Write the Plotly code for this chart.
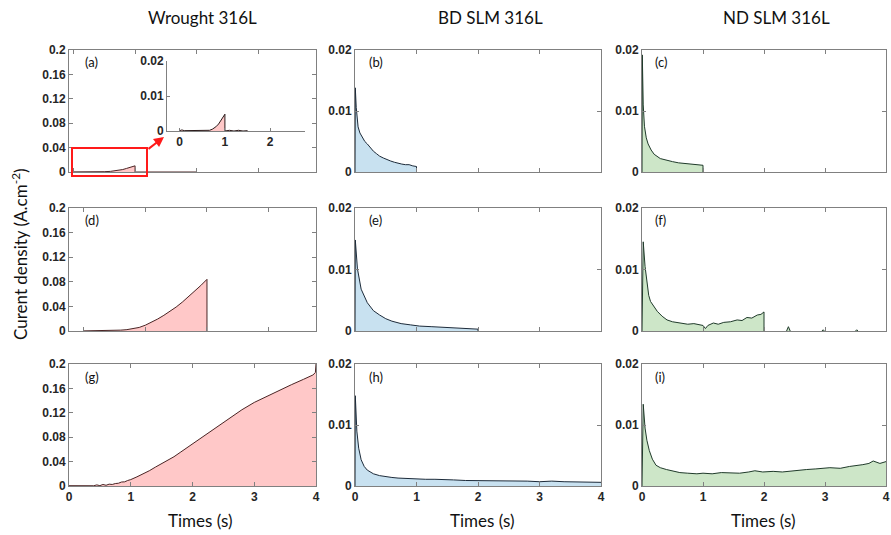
import plotly.graph_objects as go

W, H = 891, 535

# ---------------- data ----------------
col_titles = ["Wrought 316L", "BD SLM 316L", "ND SLM 316L"]
panel_tags = ["(a)", "(b)", "(c)", "(d)", "(e)", "(f)", "(g)", "(h)", "(i)"]
x_ticks = [0, 1, 2, 3, 4]
y_ticks_wrought = [0, 0.04, 0.08, 0.12, 0.16, 0.2]
y_ticks_slm = [0, 0.01, 0.02]

a_t = [0, 0.1, 0.2, 0.3, 0.4, 0.5, 0.6, 0.7, 0.8, 0.86, 0.93, 1.0, 1.0, 1.5, 2.0]
a_j = [0.0002, 0.0001, 0.0002, 0.0001, 0.0002, 0.0005, 0.001, 0.0022, 0.004, 0.0058, 0.0078, 0.0101, 0, 0, 0]

ins_t = [0, 0.05, 0.1, 0.2, 0.25, 0.35, 0.4, 0.5, 0.55, 0.6, 0.66, 0.72, 0.8, 0.86, 0.9, 0.95, 1.0, 1.0, 1.1, 1.2, 1.3, 1.4, 1.5]
ins_j = [0.0001, 0.0003, 0.0001, 0.0001, 0.0003, 0.0001, 0.0002, 0.0001, 0.0003, 0.0001, 0.0002, 0.0005, 0.0012, 0.002, 0.0027, 0.0036, 0.0048, 0, 0.0002, 0, 0.0002, 0, 0.0001]

b_t = [0, 0.005, 0.02, 0.05, 0.08, 0.12, 0.16, 0.2, 0.25, 0.3, 0.35, 0.4, 0.46, 0.52, 0.58, 0.64, 0.7, 0.76, 0.82, 0.88, 0.94, 1.0, 1.0]
b_j = [0, 0.0138, 0.0106, 0.0074, 0.0064, 0.0056, 0.005, 0.0046, 0.0039, 0.0034, 0.003, 0.0026, 0.0023, 0.002, 0.0018, 0.0016, 0.0014, 0.0013, 0.0012, 0.0012, 0.001, 0.0009, 0]

c_t = [0, 0.005, 0.02, 0.04, 0.07, 0.1, 0.15, 0.2, 0.3, 0.4, 0.5, 0.6, 0.7, 0.8, 0.9, 1.0, 1.0]
c_j = [0, 0.0192, 0.011, 0.0075, 0.0056, 0.0046, 0.0036, 0.0029, 0.0022, 0.0019, 0.0017, 0.0015, 0.0014, 0.0013, 0.0012, 0.0011, 0]

d_t = [0, 0.2, 0.4, 0.5, 0.6, 0.7, 0.8, 0.9, 1.0, 1.1, 1.2, 1.3, 1.4, 1.5, 1.6, 1.7, 1.8, 1.9, 2.0, 2.0]
d_j = [0.0002, 0.0003, 0.0006, 0.0009, 0.0014, 0.0022, 0.0036, 0.0058, 0.0095, 0.014, 0.0195, 0.0255, 0.032, 0.039, 0.047, 0.0555, 0.0645, 0.074, 0.084, 0]

e_t = [0, 0.005, 0.04, 0.1, 0.2, 0.3, 0.4, 0.5, 0.6, 0.75, 0.9, 1.05, 1.25, 1.4, 1.6, 1.8, 2.0, 2.0]
e_j = [0, 0.0148, 0.0101, 0.0068, 0.0046, 0.0033, 0.0026, 0.002, 0.0016, 0.0012, 0.001, 0.0008, 0.0007, 0.0006, 0.0005, 0.0004, 0.0003, 0]

f_t = [0, 0.02, 0.05, 0.08, 0.11, 0.14, 0.2, 0.25, 0.33, 0.41, 0.5, 0.63, 0.75, 0.85, 0.95, 1.0, 1.04, 1.08, 1.17, 1.25, 1.34, 1.45, 1.56, 1.64, 1.72, 1.8, 1.89, 1.95, 2.0, 2.0, None, 2.37, 2.4, 2.43, None, 2.95, 2.97, 2.99, None, 3.5, 3.52, 3.54]
f_j = [0, 0.0145, 0.0105, 0.0076, 0.0058, 0.0048, 0.0038, 0.0032, 0.0024, 0.0018, 0.0015, 0.0013, 0.0011, 0.0012, 0.001, 0.0009, 0.0004, 0.0009, 0.0013, 0.0011, 0.0014, 0.0015, 0.0018, 0.0017, 0.0022, 0.0021, 0.0026, 0.0027, 0.0031, 0, None, 0, 0.0007, 0, None, 0, 0.0002, 0, None, 0, 0.0002, 0]

g_t = [0, 0.1, 0.2, 0.3, 0.4, 0.45, 0.5, 0.55, 0.6, 0.65, 0.7, 0.75, 0.8, 0.85, 0.9, 0.95, 1.0, 1.1, 1.2, 1.3, 1.4, 1.5, 1.6, 1.7, 1.8, 1.9, 2.0, 2.2, 2.4, 2.6, 2.8, 3.0, 3.2, 3.4, 3.6, 3.8, 3.95, 3.99, 4.0]
g_j = [0.0005, 0.0002, 0.0006, 0.0003, 0.0004, 0.0018, 0.0006, 0.0025, 0.0012, 0.003, 0.0025, 0.004, 0.0045, 0.0065, 0.0068, 0.009, 0.0105, 0.015, 0.0195, 0.025, 0.031, 0.0365, 0.0425, 0.048, 0.055, 0.062, 0.069, 0.083, 0.0975, 0.112, 0.125, 0.137, 0.147, 0.157, 0.166, 0.175, 0.182, 0.186, 0.2]

h_t = [0, 0.005, 0.03, 0.06, 0.1, 0.15, 0.2, 0.3, 0.4, 0.5, 0.6, 0.7, 0.85, 1.0, 1.15, 1.3, 1.45, 1.6, 1.8, 2.0, 2.2, 2.4, 2.6, 2.8, 3.0, 3.2, 3.4, 3.6, 3.8, 4.0]
h_j = [0, 0.0148, 0.009, 0.0062, 0.0043, 0.0032, 0.0026, 0.002, 0.0017, 0.0015, 0.0014, 0.0013, 0.0012, 0.0012, 0.0011, 0.0011, 0.001, 0.001, 0.0009, 0.0009, 0.0009, 0.0008, 0.0009, 0.0008, 0.0007, 0.0008, 0.0007, 0.0007, 0.0006, 0.0006]

i_t = [0, 0.02, 0.05, 0.08, 0.12, 0.17, 0.23, 0.3, 0.4, 0.5, 0.62, 0.75, 0.9, 1.0, 1.15, 1.3, 1.44, 1.6, 1.75, 1.85, 1.98, 2.15, 2.3, 2.53, 2.7, 2.85, 3.08, 3.25, 3.4, 3.62, 3.72, 3.79, 3.9, 4.0]
i_j = [0, 0.0134, 0.0095, 0.0075, 0.0058, 0.0044, 0.0034, 0.003, 0.0027, 0.0025, 0.0022, 0.0021, 0.002, 0.0021, 0.002, 0.0022, 0.0022, 0.0021, 0.0023, 0.0025, 0.0023, 0.0024, 0.0023, 0.0026, 0.0027, 0.0028, 0.003, 0.0029, 0.0032, 0.0035, 0.0037, 0.0041, 0.0037, 0.004]

panel_t = [a_t, b_t, c_t, d_t, e_t, f_t, g_t, h_t, i_t]
panel_j = [a_j, b_j, c_j, d_j, e_j, f_j, g_j, h_j, i_j]

# ---------------- styling ----------------
fills = ["rgba(255,200,200,1)", "rgba(200,225,240,1)", "rgba(205,230,200,1)"]
lines = ["#4a2424", "#1d2b3a", "#1f3a2a"]
AX = "#808080"
tickfont = dict(family="Liberation Sans, Arial", size=12, color="#262626", weight="bold")
lblfont = dict(family="Lato, Noto Sans", size=13, color="#111111")

col_px = [(69, 316), (355, 601), (642, 886)]
row_px = [(50, 172), (208, 331), (364, 486)]
# x ranges (col1 rows 1 and 2 are shifted in the original)
x_ranges = [[-0.07, 3.93], [0, 4], [0, 4],
            [-0.24, 3.77], [0, 4], [0, 4],
            [0, 4], [0, 4], [0, 4]]

def px2x(p):
    return p / W

def px2y(p):
    return 1 - p / H

fig = go.Figure()
layout = {}
annotations = []

for k in range(9):
    r, c = divmod(k, 3)
    n = k + 1
    xa = "x" if n == 1 else f"x{n}"
    ya = "y" if n == 1 else f"y{n}"
    fig.add_trace(go.Scatter(
        x=panel_t[k], y=panel_j[k], mode="lines", fill="tozeroy",
        fillcolor=fills[c], line=dict(color=lines[c], width=1),
        xaxis=xa, yaxis=ya, showlegend=False, connectgaps=False,
        hoverinfo="skip"))
    xkey = "xaxis" if n == 1 else f"xaxis{n}"
    ykey = "yaxis" if n == 1 else f"yaxis{n}"
    yt = y_ticks_wrought if c == 0 else y_ticks_slm
    ytxt = ["0" if v == 0 else f"{v:g}" for v in yt]
    layout[xkey] = dict(
        domain=[px2x(col_px[c][0]), px2x(col_px[c][1])],
        anchor=ya, range=x_ranges[k], tickvals=x_ticks,
        ticktext=[str(v) for v in x_ticks],
        showticklabels=(r == 2), ticks="inside", ticklen=4,
        tickcolor=AX, showline=True, linecolor=AX, linewidth=1,
        mirror="allticks", showgrid=False, zeroline=False,
        tickfont=tickfont, fixedrange=True, automargin=False)
    layout[ykey] = dict(
        domain=[px2y(row_px[r][1]), px2y(row_px[r][0])],
        anchor=xa, range=[0, yt[-1]], tickvals=yt, ticktext=ytxt,
        ticks="inside", ticklen=4, tickcolor=AX, showline=True,
        linecolor=AX, linewidth=1, mirror="allticks", showgrid=False,
        zeroline=False, tickfont=tickfont, fixedrange=True, automargin=False)

# inset in panel (a)
fig.add_trace(go.Scatter(
    x=ins_t, y=ins_j, mode="lines", fill="tozeroy", fillcolor=fills[0],
    line=dict(color="#2a1a1a", width=1), xaxis="x10", yaxis="y10",
    showlegend=False, hoverinfo="skip"))
layout["xaxis10"] = dict(
    domain=[px2x(167), px2x(305)], anchor="y10", range=[-0.28, 2.77],
    tickvals=[0, 1, 2], ticktext=["0", "1", "2"], ticks="inside", ticklen=3,
    tickcolor=AX, showline=True, linecolor=AX, linewidth=1, mirror=False,
    showgrid=False, zeroline=False, tickfont=tickfont, fixedrange=True,
    automargin=False)
layout["yaxis10"] = dict(
    domain=[px2y(131), px2y(61)], anchor="x10", range=[0, 0.02],
    tickvals=[0, 0.01, 0.02], ticktext=["0", "0.01", "0.02"], ticks="inside",
    ticklen=3, tickcolor=AX, showline=True, linecolor=AX, linewidth=1,
    mirror=False, showgrid=False, zeroline=False, tickfont=tickfont,
    fixedrange=True, automargin=False)

# column titles
title_cx = [202, 490, 776]
for c in range(3):
    annotations.append(dict(
        text=col_titles[c], x=px2x(title_cx[c]), y=px2y(17), xref="paper",
        yref="paper", showarrow=False, xanchor="center", yanchor="middle",
        font=dict(family="Lato, Noto Sans", size=17, color="#111111")))

# x titles
xt_cx = [200, 482, 763]
for c in range(3):
    annotations.append(dict(
        text="Times (s)", x=px2x(xt_cx[c]), y=px2y(520), xref="paper",
        yref="paper", showarrow=False, xanchor="center", yanchor="middle",
        font=dict(family="Lato, Noto Sans", size=17, color="#111111")))

# y title
annotations.append(dict(
    text="Curent density (A.cm<sup>-2</sup>)", x=px2x(20), y=px2y(254),
    xref="paper", yref="paper", showarrow=False, textangle=-90,
    xanchor="center", yanchor="middle",
    font=dict(family="Lato, Noto Sans", size=17, color="#111111")))

# panel tags
tag_x = [83, 367, 653]
tag_y = [62, 220, 377]
for k in range(9):
    r, c = divmod(k, 3)
    annotations.append(dict(
        text=panel_tags[k], x=px2x(tag_x[c]), y=px2y(tag_y[r]), xref="paper",
        yref="paper", showarrow=False, xanchor="left", yanchor="middle",
        font=lblfont))

# arrow from zoom box to inset
annotations.append(dict(
    text="", x=px2x(164), y=px2y(137), xref="paper", yref="paper",
    ax=147 - 164, ay=150 - 137, axref="pixel", ayref="pixel",
    showarrow=True, arrowhead=2, arrowsize=1, arrowwidth=2,
    arrowcolor="#ff1a1a"))

shapes = [dict(type="rect", xref="paper", yref="paper",
               x0=px2x(72), x1=px2x(147), y0=px2y(176), y1=px2y(148),
               line=dict(color="#ff1a1a", width=2), fillcolor="rgba(0,0,0,0)")]

fig.update_layout(
    width=W, height=H, margin=dict(l=0, r=0, t=0, b=0, autoexpand=False),
    paper_bgcolor="white", plot_bgcolor="white",
    annotations=annotations, shapes=shapes, **layout)

fig.write_html("out.html", config={"displayModeBar": False},
               post_script="document.body.style.margin='0';document.body.style.overflow='hidden';")
